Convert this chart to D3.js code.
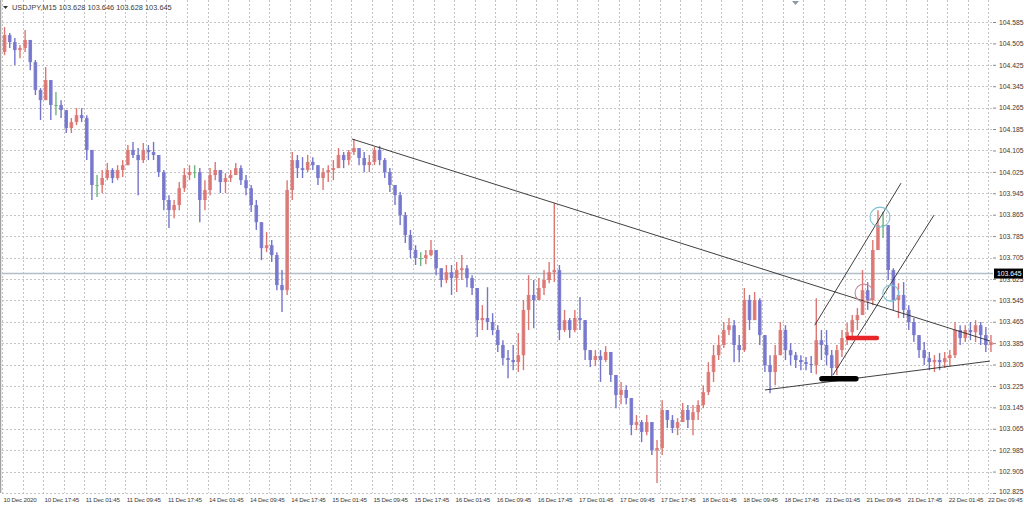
<!DOCTYPE html>
<html>
<head>
<meta charset="utf-8">
<script src="https://cdn.jsdelivr.net/npm/d3@7/dist/d3.min.js"></script>
<style>
html,body{margin:0;padding:0;background:#fff;}
svg{display:block;}
text{font-family:"Liberation Sans",Arial,sans-serif;}
</style>
</head>
<body>
<svg id="chart" width="1024" height="507"></svg>
<script>
// ---------- DATA ----------
const symbolTitle = "USDJPY,M15 103.628 103.646 103.628 103.645";
const currentPrice = 103.645;
const timeLabels = ["10 Dec 2020","10 Dec 17:45","11 Dec 01:45","11 Dec 09:45","11 Dec 17:45",
  "14 Dec 01:45","14 Dec 09:45","14 Dec 17:45","15 Dec 01:45","15 Dec 09:45","15 Dec 17:45",
  "16 Dec 01:45","16 Dec 09:45","16 Dec 17:45","17 Dec 01:45","17 Dec 09:45","17 Dec 17:45",
  "18 Dec 01:45","18 Dec 09:45","18 Dec 17:45","21 Dec 01:45","21 Dec 09:45","21 Dec 17:45",
  "22 Dec 01:45","22 Dec 09:45"];
const priceTicks = [104.585,104.505,104.425,104.345,104.265,104.185,104.105,104.025,103.945,
  103.865,103.785,103.705,103.625,103.545,103.465,103.385,103.305,103.225,103.145,103.065,
  102.985,102.905,102.825];
const firstOpen = 104.473;
const highs = [104.566,104.544,104.525,104.499,104.555,104.518,104.443,104.338,104.417,104.349,
  104.323,104.293,104.256,104.226,104.263,104.263,104.237,104.107,104.013,104.032,
  104.058,104.039,104.050,104.069,104.125,104.137,104.114,104.133,104.125,104.137,
  104.088,104.032,103.938,103.920,103.987,104.039,104.050,104.050,104.039,103.994,
  104.039,104.062,104.032,104.020,104.032,104.058,104.050,104.013,103.976,103.920,
  103.837,103.800,103.770,103.725,103.658,103.994,104.099,104.088,104.080,104.088,
  104.080,104.050,104.039,104.050,104.069,104.114,104.099,104.107,104.148,104.114,
  104.099,104.088,104.118,104.122,104.077,104.039,103.976,103.950,103.875,103.808,
  103.751,103.725,103.733,103.770,103.733,103.665,103.677,103.677,103.688,103.714,
  103.677,103.639,103.591,103.527,103.594,103.497,103.452,103.396,103.359,103.378,
  103.423,103.546,103.639,103.621,103.628,103.658,103.688,103.908,103.677,103.509,
  103.479,103.509,103.557,103.434,103.359,103.359,103.359,103.374,103.340,103.254,
  103.240,103.228,103.154,103.116,103.098,103.116,103.060,103.023,103.172,103.135,
  103.116,103.105,103.161,103.154,103.154,103.172,103.228,103.314,103.378,103.415,
  103.464,103.479,103.471,103.415,103.591,103.565,103.576,103.553,103.415,103.340,
  103.378,103.464,103.452,103.385,103.352,103.340,103.333,103.337,103.553,103.434,
  103.434,103.359,103.378,103.434,103.460,103.490,103.516,103.658,103.613,103.770,
  103.882,103.875,103.815,103.665,103.609,103.613,103.527,103.479,103.415,103.389,
  103.352,103.340,103.348,103.352,103.359,103.464,103.452,103.452,103.464,103.471,
  103.464,103.445,103.415];
const lows = [104.461,104.488,104.424,104.450,104.473,104.405,104.312,104.219,104.293,104.219,
  104.237,104.226,104.170,104.170,104.200,104.211,104.069,103.920,103.931,103.946,
  103.994,103.983,103.994,104.006,104.050,104.077,103.938,104.058,104.069,104.069,
  104.006,103.882,103.815,103.852,103.882,103.950,103.994,104.002,103.837,103.882,
  103.938,103.994,103.946,103.946,103.987,104.013,103.976,103.938,103.875,103.808,
  103.695,103.725,103.688,103.583,103.501,103.565,103.920,104.002,104.002,104.024,
  104.032,103.976,103.957,103.987,103.994,104.039,104.039,104.050,104.088,104.050,
  104.024,104.024,104.050,104.050,104.002,103.950,103.901,103.826,103.759,103.703,
  103.677,103.673,103.680,103.710,103.639,103.594,103.609,103.565,103.576,103.621,
  103.594,103.565,103.408,103.434,103.434,103.415,103.352,103.303,103.254,103.284,
  103.277,103.284,103.434,103.441,103.546,103.565,103.609,103.613,103.396,103.426,
  103.404,103.426,103.434,103.322,103.296,103.299,103.240,103.314,103.240,103.142,
  103.157,103.157,103.041,103.060,103.015,103.041,102.967,102.862,102.967,103.068,
  103.049,103.041,103.090,103.068,103.041,103.098,103.142,103.191,103.240,103.322,
  103.367,103.415,103.314,103.314,103.352,103.434,103.490,103.378,103.277,103.198,
  103.228,103.359,103.322,103.303,103.292,103.284,103.284,103.273,103.269,103.322,
  103.303,103.262,103.266,103.333,103.378,103.396,103.434,103.509,103.509,103.527,
  103.733,103.778,103.621,103.509,103.479,103.479,103.434,103.389,103.329,103.303,
  103.284,103.277,103.284,103.292,103.299,103.329,103.378,103.389,103.396,103.389,
  103.378,103.352,103.352];
const closes = [104.536,104.510,104.480,104.488,104.518,104.435,104.331,104.293,104.368,104.275,
  104.275,104.256,104.189,104.211,104.237,104.226,104.107,103.976,103.976,104.002,
  104.032,104.002,104.032,104.050,104.107,104.088,104.069,104.107,104.099,104.088,
  104.024,103.920,103.882,103.901,103.964,104.013,104.024,104.024,103.920,103.957,
  104.013,104.032,103.987,104.002,104.013,104.039,103.994,103.964,103.901,103.837,
  103.740,103.751,103.714,103.602,103.583,103.957,104.069,104.039,104.032,104.062,
  104.050,104.002,104.024,104.032,104.039,104.088,104.069,104.099,104.114,104.077,
  104.050,104.062,104.107,104.069,104.024,103.976,103.938,103.863,103.789,103.733,
  103.703,103.703,103.714,103.733,103.665,103.621,103.650,103.628,103.658,103.665,
  103.628,103.591,103.471,103.479,103.464,103.434,103.378,103.329,103.322,103.314,
  103.340,103.509,103.565,103.546,103.591,103.621,103.650,103.658,103.434,103.471,
  103.434,103.479,103.471,103.359,103.322,103.337,103.322,103.352,103.266,103.191,
  103.210,103.180,103.079,103.090,103.053,103.090,102.985,102.993,103.135,103.098,
  103.068,103.090,103.135,103.098,103.127,103.154,103.202,103.277,103.340,103.378,
  103.434,103.452,103.378,103.359,103.546,103.471,103.546,103.415,103.303,103.277,
  103.340,103.434,103.359,103.340,103.322,103.314,103.307,103.303,103.396,103.378,
  103.340,103.292,103.359,103.404,103.426,103.471,103.490,103.583,103.546,103.733,
  103.826,103.826,103.658,103.546,103.565,103.509,103.464,103.415,103.359,103.329,
  103.314,103.322,103.314,103.329,103.340,103.434,103.404,103.434,103.426,103.452,
  103.415,103.378,103.389];
// drawn objects: positions in bar index (time) and price
const trendLines = [
  {i1:68.1, p1:104.148, i2:192.3, p2:103.393},
  {i1:148.5, p1:103.210, i2:192.3, p2:103.318},
  {i1:158.2, p1:103.452, i2:175.0, p2:103.983},
  {i1:161.75, p1:103.266, i2:181.4, p2:103.863}
];
const circleMarks = [
  {i:170.9, p:103.856, kind:"teal", size:"large"},
  {i:167.8, p:103.572, kind:"rose", size:"medium"},
  {i:173.0, p:103.572, kind:"teal", size:"small"}
];
const levelBars = [
  {i1:164.7, i2:170.3, p:103.404, kind:"red"},
  {i1:159.6, i2:166.2, p:103.252, kind:"black"}
];

// ---------- STYLE / LAYOUT ----------
const svg = d3.select("#chart");
const plotL = 2, plotR = 993, plotT = 0, plotB = 493;
const barStep = 5.1375;
const x = d3.scaleLinear().domain([0, closes.length]).range([plotL, plotL + closes.length * barStep]);
const y = d3.scaleLinear().domain([102.825, 104.585]).range([493, 22]);
const bullColor = "#dc7672", bearColor = "#7374cc", dojiColor = "#6cb47c";
const gridColor = "#c4c4c4";
const textColor = "#3a3a3a";
const radius = {large:10, medium:9, small:8};

// grid
const gridV = d3.range(0, closes.length, 4);
svg.append("g").selectAll("line").data(gridV).join("line")
  .attr("x1", d => Math.round(x(d)) + 0.5).attr("x2", d => Math.round(x(d)) + 0.5)
  .attr("y1", plotT).attr("y2", plotB)
  .attr("stroke", gridColor).attr("stroke-width", 1).attr("stroke-dasharray", "2,2");
svg.append("g").selectAll("line").data(priceTicks).join("line")
  .attr("x1", plotL).attr("x2", plotR)
  .attr("y1", d => Math.round(y(d)) + 0.5).attr("y2", d => Math.round(y(d)) + 0.5)
  .attr("stroke", gridColor).attr("stroke-width", 1).attr("stroke-dasharray", "2,2");

// left frame
svg.append("line").attr("x1", 0.5).attr("x2", 0.5).attr("y1", 0).attr("y2", 493)
  .attr("stroke", "#a0a0a0").attr("stroke-width", 1.5);

// current price line
svg.append("line").attr("x1", plotL).attr("x2", plotR)
  .attr("y1", y(currentPrice)).attr("y2", y(currentPrice))
  .attr("stroke", "#b4bec6").attr("stroke-width", 1.6);

// candles
const candles = closes.map((c, i) => ({
  i, o: i === 0 ? firstOpen : closes[i - 1], h: highs[i], l: lows[i], c
}));
const colorOf = d => d.c > d.o ? bullColor : (d.c < d.o ? bearColor : dojiColor);
const cg = svg.append("g");
cg.selectAll("line").data(candles).join("line")
  .attr("x1", d => x(d.i + 0.5)).attr("x2", d => x(d.i + 0.5))
  .attr("y1", d => y(Math.max(d.h, d.o, d.c))).attr("y2", d => y(Math.min(d.l, d.o, d.c)))
  .attr("stroke", colorOf).attr("stroke-width", 1.4);
cg.selectAll("rect").data(candles).join("rect")
  .attr("x", d => x(d.i + 0.5) - 1.8).attr("width", 3.6)
  .attr("y", d => y(Math.max(d.o, d.c)))
  .attr("height", d => Math.max(1, Math.abs(y(d.o) - y(d.c))))
  .attr("fill", colorOf).attr("fill-opacity", 0.9);

// trend lines
svg.append("g").selectAll("line").data(trendLines).join("line")
  .attr("x1", d => x(d.i1)).attr("y1", d => y(d.p1))
  .attr("x2", d => x(d.i2)).attr("y2", d => y(d.p2))
  .attr("stroke", "#2a2a2a").attr("stroke-width", 0.9);

// circles
svg.append("g").selectAll("circle").data(circleMarks).join("circle")
  .attr("cx", d => x(d.i)).attr("cy", d => y(d.p))
  .attr("r", d => radius[d.size])
  .attr("fill", "none")
  .attr("stroke", d => d.kind === "rose" ? "#c98a95" : "#7ec0d2")
  .attr("stroke-width", 1.1);

// level bars
svg.append("g").selectAll("line").data(levelBars).join("line")
  .attr("x1", d => x(d.i1)).attr("x2", d => x(d.i2))
  .attr("y1", d => y(d.p)).attr("y2", d => y(d.p))
  .attr("stroke", d => d.kind === "red" ? "#e8262a" : "#000")
  .attr("stroke-width", d => d.kind === "red" ? 4.5 : 5.5)
  .attr("stroke-linecap", "round");

// price axis
const yAxis = d3.axisRight(y).tickValues(priceTicks).tickFormat(d3.format(".3f")).tickSize(3).tickPadding(3);
const ya = svg.append("g").attr("transform", `translate(${plotR},0)`).call(yAxis);
ya.select(".domain").remove();
ya.selectAll(".tick line").attr("stroke", "#888");
ya.selectAll("text").attr("fill", textColor).style("font-size", "6.8px")
  .attr("dy", d => d === priceTicks[priceTicks.length - 1] ? "0.1em" : "0.32em")
  .style("font-family", "'Liberation Sans', Arial, sans-serif");

// current price label
const cpY = y(currentPrice);
svg.append("rect").attr("x", 994).attr("y", cpY - 5).attr("width", 29).attr("height", 10).attr("fill", "#000");
svg.append("text").attr("x", 997).attr("y", cpY + 2.5).attr("fill", "#fff")
  .style("font-size", "6.8px").text(d3.format(".3f")(currentPrice));

// time axis
const xTicks = timeLabels.map((_, j) => j * 8);
const xAxis = d3.axisBottom(x).tickValues(xTicks).tickFormat((d, j) => timeLabels[j]).tickSize(0).tickPadding(4.5);
const xa = svg.append("g").attr("transform", `translate(0,${plotB})`).call(xAxis);
xa.select(".domain").remove();
xa.selectAll("text").attr("fill", textColor)
  .attr("text-anchor", (d, j) => j === timeLabels.length - 1 ? "end" : "start")
  .attr("dx", (d, j) => j === timeLabels.length - 1 ? 1022 - x(d) : 1)
  .style("font-size", "6.2px").style("letter-spacing", "-0.2px")
  .style("font-family", "'Liberation Sans', Arial, sans-serif");

// title
svg.append("path").attr("d", "M3,6 L8,6 L5.5,9 Z").attr("fill", "#333");
svg.append("text").attr("x", 12).attr("y", 10).attr("fill", textColor)
  .style("font-size", "7.4px").text(symbolTitle);
// chart shift marker
svg.append("path").attr("d", "M792,1 L799,1 L795.5,5 Z").attr("fill", "#8a9aa8");
</script>
</body>
</html>
